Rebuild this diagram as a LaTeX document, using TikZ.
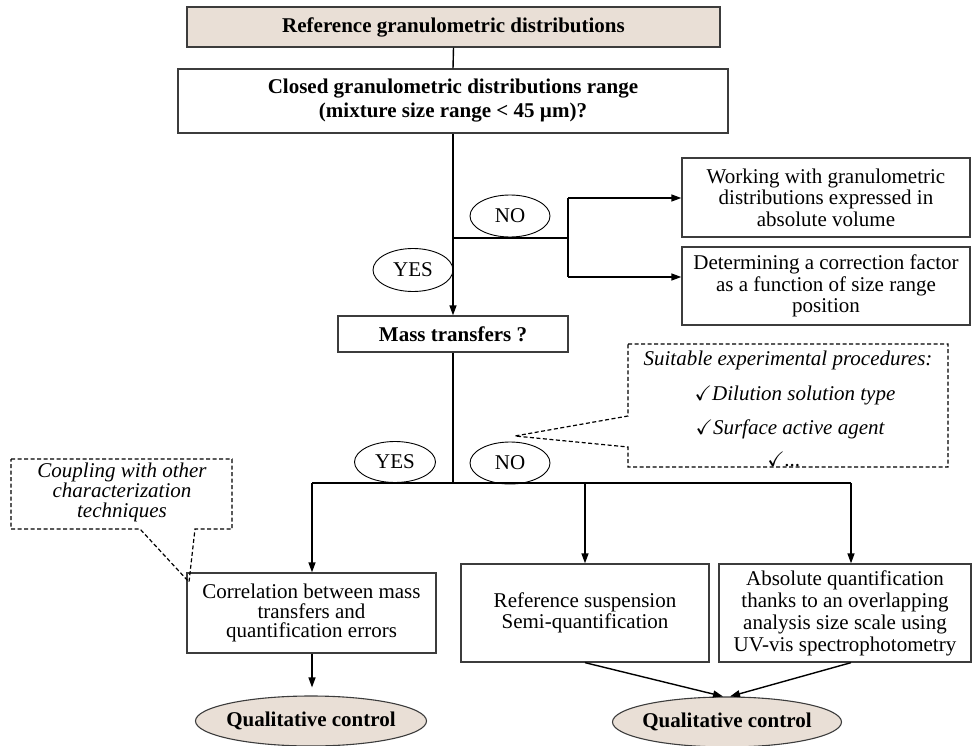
\documentclass[tikz,border=0pt]{standalone}
\usepackage{fontspec}
\setmainfont{Liberation Serif}
\usepackage{amssymb}
\usetikzlibrary{shapes.geometric,arrows.meta}
\definecolor{beige}{RGB}{233,223,214}
\definecolor{edge}{RGB}{60,60,60}
\newcommand\fsz{\fontsize{21}{21}\selectfont}
\begin{document}
\begin{tikzpicture}[x=1pt,y=-1pt,
  box/.style={draw=edge, line width=1.3pt, rectangle, inner sep=0pt, align=center, font=\fsz},
  bbox/.style={box, font=\fsz\bfseries},
  tan/.style={fill=beige},
  oval/.style={draw, ellipse, line width=0.9pt, inner sep=0pt, font=\fsz},
  qoval/.style={draw=edge, ellipse, line width=1.1pt, inner sep=0pt, fill=beige, font=\fsz\bfseries},
  ln/.style={line width=1.4pt},
  arr/.style={-{Triangle[length=10pt,width=7pt]}, line width=1.4pt},
  callout/.style={line width=1.2pt, dash pattern=on 4pt off 2.5pt},
  itx/.style={font=\fsz\itshape, align=center, inner sep=0pt}
]
\useasboundingbox (0,0) rectangle (972,746);

% boxes
\node[bbox,tan,minimum width=533,minimum height=40] (top) at (453.5,27) {Reference granulometric distributions};
\node[bbox,minimum width=550,minimum height=64,font=\fontsize{21}{24}\selectfont\bfseries] (q1) at (453,101) {Closed granulometric distributions range\\(mixture size range < 45 µm)?};
\node[box,minimum width=288,minimum height=79,font=\fontsize{21}{21.5}\selectfont] (r1) at (826,197.5) {Working with granulometric\\distributions expressed in\\absolute volume};
\node[box,minimum width=288,minimum height=78,font=\fontsize{21}{21.5}\selectfont] (r2) at (826,286) {Determining a correction factor\\as a function of size range\\position};
\node[bbox,minimum width=230,minimum height=36] (mass) at (453,334) {Mass transfers ?};
\node[box,minimum width=249,minimum height=80,font=\fontsize{21}{19.5}\selectfont] (corr) at (311.5,613) {Correlation between mass\\transfers and\\quantification errors};
\node[box,minimum width=248,minimum height=98] (refs) at (585,613) {Reference suspension\\Semi-quantification};
\node[box,minimum width=252,minimum height=98,font=\fontsize{21}{22}\selectfont] (abs) at (845,613) {Absolute quantification\\thanks to an overlapping\\analysis size scale using\\UV-vis spectrophotometry};

% ovals
\node[oval,minimum width=80,minimum height=43] (yes1) at (413,270) {YES};
\node[oval,minimum width=80,minimum height=42] (no1) at (510,216) {NO};
\node[oval,minimum width=81,minimum height=41] (yes2) at (395,462) {YES};
\node[oval,minimum width=80,minimum height=42] (no2) at (510,463) {NO};
\node[qoval,minimum width=231,minimum height=50] (qc1) at (311,721) {\makebox[0pt]{Qualitative control}};
\node[qoval,minimum width=229,minimum height=50] (qc2) at (727,722) {\makebox[0pt]{Qualitative control}};

% upper connectors
\draw[ln] (top.south) -- (q1.north);
\draw[arr] (q1.south) -- (mass.north);
\coordinate (j1) at (453,238);
\coordinate (j2) at (568,238);
\coordinate (j2a) at (568,198);
\coordinate (j2b) at (568,277);
\draw[ln] (j1) -- (j2);
\draw[ln] (j2a) -- (j2b);
\draw[arr] (j2a) -- (j2a -| r1.west);
\draw[arr] (j2b) -- (j2b -| r2.west);

% lower connectors
\coordinate (h) at (453,483);
\coordinate (hl) at (312,483);
\coordinate (hm) at (585,483);
\coordinate (hr) at (851,483);
\draw[ln] (mass.south) -- (h);
\draw[ln] (hl) -- (hr);
\draw[arr] (hl) -- (hl |- corr.north);
\draw[arr] (hm) -- (hm |- refs.north);
\draw[arr] (hr) -- (hr |- abs.north);
\draw[arr, shorten >=8pt] (corr.south -| hl) -- (qc1.north -| hl);
\draw[arr] (refs.south) -- ([xshift=-4pt]qc2.north);
\draw[arr] (hr |- abs.south) -- ([xshift=3pt]qc2.north);

% callouts
\draw[callout] (628,344) -- (948,344) -- (948,467) -- (628,467) -- (628,447) -- (515,436) -- (628,416) -- cycle;
\node[itx] (s1) at (788,360) {Suitable experimental procedures:};
\node[itx] (s2) at (795,395) {$\checkmark$Dilution solution type};
\node[itx] (s3) at (790,429) {$\checkmark$Surface active agent};
\node[itx] (s4) at (784,459) {$\checkmark$...};

\draw[callout] (11,459) -- (232,459) -- (232,529) -- (195,529) -- (189,582) -- (140,529) -- (11,529) -- cycle;
\node[itx,font=\fontsize{21}{20}\selectfont\itshape] (cp) at (122,492) {Coupling with other\\characterization\\techniques};
\end{tikzpicture}
\end{document}
